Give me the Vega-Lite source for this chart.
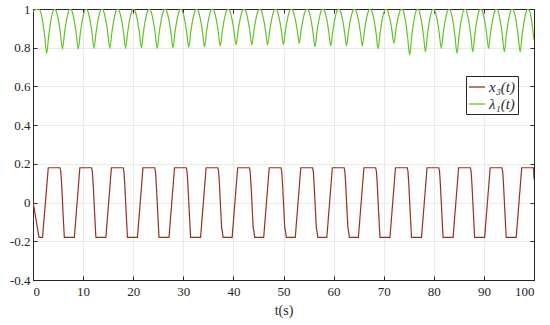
{
  "$schema": "https://vega.github.io/schema/vega-lite/v6.json",
  "width": 501,
  "height": 271,
  "autosize": {"type": "none"},
  "padding": {"left": 33, "top": 9, "right": 16, "bottom": 45},
  "background": "white",
  "config": {
    "view": {"stroke": "#262626", "strokeWidth": 1},
    "font": "Liberation Serif",
    "axis": {
      "labelFont": "Liberation Serif",
      "labelFontSize": 13,
      "labelColor": "#262626",
      "domainColor": "#262626",
      "tickColor": "#262626",
      "titleFont": "Liberation Serif",
      "titleFontWeight": "normal",
      "titleFontSize": 14,
      "titleColor": "#262626",
      "gridColor": "#e3e3e3",
      "gridWidth": 0.8
    },
    "legend": {
      "labelFont": "Liberation Serif",
      "labelFontSize": 15,
      "labelFontStyle": "italic",
      "labelColor": "#262626",
      "strokeColor": "#262626",
      "fillColor": "white",
      "padding": 2,
      "symbolType": "stroke",
      "symbolSize": 260,
      "symbolStrokeWidth": 1.3,
      "rowPadding": 0,
      "labelOffset": 3
    }
  },
  "datasets": {
    "x3": [
      {"t": 0, "y": 0}, {"t": 0.3, "y": -0.04}, {"t": 1.2, "y": -0.18}, {"t": 1.9, "y": -0.18},
      {"t": 3.05, "y": 0.18}, {"t": 5.4, "y": 0.18}, {"t": 5.55, "y": 0.16}, {"t": 5.7, "y": 0.1}, {"t": 6.25, "y": -0.18}, {"t": 8.25, "y": -0.18},
      {"t": 9.35, "y": 0.18}, {"t": 11.7, "y": 0.18}, {"t": 11.85, "y": 0.16}, {"t": 12.0, "y": 0.1}, {"t": 12.55, "y": -0.18}, {"t": 14.55, "y": -0.18},
      {"t": 15.65, "y": 0.18}, {"t": 18.0, "y": 0.18}, {"t": 18.15, "y": 0.16}, {"t": 18.3, "y": 0.1}, {"t": 18.85, "y": -0.18}, {"t": 20.85, "y": -0.18},
      {"t": 21.95, "y": 0.18}, {"t": 24.3, "y": 0.18}, {"t": 24.45, "y": 0.16}, {"t": 24.6, "y": 0.1}, {"t": 25.15, "y": -0.18}, {"t": 27.15, "y": -0.18},
      {"t": 28.25, "y": 0.18}, {"t": 30.6, "y": 0.18}, {"t": 30.75, "y": 0.16}, {"t": 30.9, "y": 0.1}, {"t": 31.45, "y": -0.18}, {"t": 33.45, "y": -0.18},
      {"t": 34.55, "y": 0.18}, {"t": 36.9, "y": 0.18}, {"t": 37.05, "y": 0.16}, {"t": 37.2, "y": 0.1}, {"t": 37.65, "y": -0.13}, {"t": 37.8, "y": -0.15}, {"t": 37.95, "y": -0.18}, {"t": 39.75, "y": -0.18},
      {"t": 40.85, "y": 0.18}, {"t": 43.2, "y": 0.18}, {"t": 43.35, "y": 0.16}, {"t": 43.5, "y": 0.1}, {"t": 43.95, "y": -0.13}, {"t": 44.1, "y": -0.15}, {"t": 44.25, "y": -0.18}, {"t": 46.05, "y": -0.18},
      {"t": 47.15, "y": 0.18}, {"t": 49.5, "y": 0.18}, {"t": 49.65, "y": 0.16}, {"t": 49.8, "y": 0.1}, {"t": 50.25, "y": -0.13}, {"t": 50.4, "y": -0.15}, {"t": 50.55, "y": -0.18}, {"t": 52.35, "y": -0.18},
      {"t": 53.45, "y": 0.18}, {"t": 55.8, "y": 0.18}, {"t": 55.95, "y": 0.16}, {"t": 56.1, "y": 0.1}, {"t": 56.55, "y": -0.13}, {"t": 56.7, "y": -0.15}, {"t": 56.85, "y": -0.18}, {"t": 58.65, "y": -0.18},
      {"t": 59.75, "y": 0.18}, {"t": 62.1, "y": 0.18}, {"t": 62.25, "y": 0.16}, {"t": 62.4, "y": 0.1}, {"t": 62.85, "y": -0.13}, {"t": 63.0, "y": -0.15}, {"t": 63.15, "y": -0.18}, {"t": 64.95, "y": -0.18},
      {"t": 66.05, "y": 0.18}, {"t": 68.4, "y": 0.18}, {"t": 68.55, "y": 0.16}, {"t": 68.7, "y": 0.1}, {"t": 69.25, "y": -0.18}, {"t": 71.25, "y": -0.18},
      {"t": 72.35, "y": 0.18}, {"t": 74.7, "y": 0.18}, {"t": 74.85, "y": 0.16}, {"t": 75.0, "y": 0.1}, {"t": 75.55, "y": -0.18}, {"t": 77.55, "y": -0.18},
      {"t": 78.65, "y": 0.18}, {"t": 81.0, "y": 0.18}, {"t": 81.15, "y": 0.16}, {"t": 81.3, "y": 0.1}, {"t": 81.85, "y": -0.18}, {"t": 83.85, "y": -0.18},
      {"t": 84.95, "y": 0.18}, {"t": 87.3, "y": 0.18}, {"t": 87.45, "y": 0.16}, {"t": 87.6, "y": 0.1}, {"t": 88.15, "y": -0.18}, {"t": 90.15, "y": -0.18},
      {"t": 91.25, "y": 0.18}, {"t": 93.6, "y": 0.18}, {"t": 93.75, "y": 0.16}, {"t": 93.9, "y": 0.1}, {"t": 94.45, "y": -0.18}, {"t": 96.45, "y": -0.18},
      {"t": 97.55, "y": 0.18}, {"t": 99.9, "y": 0.18}, {"t": 100, "y": 0.12}
    ],
    "lam": [
      {"t": 0, "y": 0.985}, {"t": 0.5, "y": 0.998}, {"t": 1.15, "y": 1},
      {"t": 1.53, "y": 0.984}, {"t": 1.93, "y": 0.935}, {"t": 2.33, "y": 0.86}, {"t": 2.73, "y": 0.771}, {"t": 3.13, "y": 0.86}, {"t": 3.53, "y": 0.935}, {"t": 3.93, "y": 0.984}, {"t": 4.31, "y": 1},
      {"t": 4.68, "y": 0.986}, {"t": 5.08, "y": 0.941}, {"t": 5.48, "y": 0.873}, {"t": 5.88, "y": 0.793}, {"t": 6.28, "y": 0.873}, {"t": 6.68, "y": 0.941}, {"t": 7.08, "y": 0.986}, {"t": 7.46, "y": 1},
      {"t": 7.83, "y": 0.986}, {"t": 8.23, "y": 0.941}, {"t": 8.63, "y": 0.873}, {"t": 9.03, "y": 0.793}, {"t": 9.43, "y": 0.873}, {"t": 9.83, "y": 0.941}, {"t": 10.23, "y": 0.986}, {"t": 10.61, "y": 1},
      {"t": 10.98, "y": 0.986}, {"t": 11.38, "y": 0.942}, {"t": 11.78, "y": 0.876}, {"t": 12.18, "y": 0.797}, {"t": 12.58, "y": 0.876}, {"t": 12.98, "y": 0.942}, {"t": 13.38, "y": 0.986}, {"t": 13.76, "y": 1},
      {"t": 14.13, "y": 0.986}, {"t": 14.53, "y": 0.942}, {"t": 14.93, "y": 0.876}, {"t": 15.33, "y": 0.797}, {"t": 15.73, "y": 0.876}, {"t": 16.13, "y": 0.942}, {"t": 16.53, "y": 0.986}, {"t": 16.91, "y": 1},
      {"t": 17.28, "y": 0.986}, {"t": 17.68, "y": 0.942}, {"t": 18.08, "y": 0.876}, {"t": 18.48, "y": 0.797}, {"t": 18.88, "y": 0.876}, {"t": 19.28, "y": 0.942}, {"t": 19.68, "y": 0.986}, {"t": 20.06, "y": 1},
      {"t": 20.43, "y": 0.986}, {"t": 20.83, "y": 0.943}, {"t": 21.23, "y": 0.878}, {"t": 21.63, "y": 0.8}, {"t": 22.03, "y": 0.878}, {"t": 22.43, "y": 0.943}, {"t": 22.83, "y": 0.986}, {"t": 23.21, "y": 1},
      {"t": 23.58, "y": 0.986}, {"t": 23.98, "y": 0.942}, {"t": 24.38, "y": 0.876}, {"t": 24.78, "y": 0.797}, {"t": 25.18, "y": 0.876}, {"t": 25.58, "y": 0.942}, {"t": 25.98, "y": 0.986}, {"t": 26.36, "y": 1},
      {"t": 26.73, "y": 0.986}, {"t": 27.13, "y": 0.943}, {"t": 27.53, "y": 0.878}, {"t": 27.93, "y": 0.8}, {"t": 28.33, "y": 0.878}, {"t": 28.73, "y": 0.943}, {"t": 29.13, "y": 0.986}, {"t": 29.51, "y": 1},
      {"t": 29.88, "y": 0.986}, {"t": 30.28, "y": 0.944}, {"t": 30.68, "y": 0.879}, {"t": 31.08, "y": 0.803}, {"t": 31.48, "y": 0.879}, {"t": 31.88, "y": 0.944}, {"t": 32.28, "y": 0.986}, {"t": 32.66, "y": 1},
      {"t": 33.03, "y": 0.987}, {"t": 33.43, "y": 0.945}, {"t": 33.83, "y": 0.881}, {"t": 34.23, "y": 0.805}, {"t": 34.63, "y": 0.881}, {"t": 35.03, "y": 0.945}, {"t": 35.43, "y": 0.987}, {"t": 35.81, "y": 1},
      {"t": 36.18, "y": 0.987}, {"t": 36.58, "y": 0.946}, {"t": 36.98, "y": 0.883}, {"t": 37.38, "y": 0.809}, {"t": 37.78, "y": 0.883}, {"t": 38.18, "y": 0.946}, {"t": 38.58, "y": 0.987}, {"t": 38.96, "y": 1},
      {"t": 39.33, "y": 0.987}, {"t": 39.73, "y": 0.947}, {"t": 40.13, "y": 0.886}, {"t": 40.53, "y": 0.814}, {"t": 40.93, "y": 0.886}, {"t": 41.33, "y": 0.947}, {"t": 41.73, "y": 0.987}, {"t": 42.11, "y": 1},
      {"t": 42.48, "y": 0.987}, {"t": 42.88, "y": 0.947}, {"t": 43.28, "y": 0.886}, {"t": 43.68, "y": 0.814}, {"t": 44.08, "y": 0.886}, {"t": 44.48, "y": 0.947}, {"t": 44.88, "y": 0.987}, {"t": 45.26, "y": 1},
      {"t": 45.63, "y": 0.987}, {"t": 46.03, "y": 0.947}, {"t": 46.43, "y": 0.886}, {"t": 46.83, "y": 0.814}, {"t": 47.23, "y": 0.886}, {"t": 47.63, "y": 0.947}, {"t": 48.03, "y": 0.987}, {"t": 48.41, "y": 1},
      {"t": 48.78, "y": 0.987}, {"t": 49.18, "y": 0.948}, {"t": 49.58, "y": 0.888}, {"t": 49.98, "y": 0.817}, {"t": 50.38, "y": 0.888}, {"t": 50.78, "y": 0.948}, {"t": 51.18, "y": 0.987}, {"t": 51.56, "y": 1},
      {"t": 51.93, "y": 0.988}, {"t": 52.33, "y": 0.95}, {"t": 52.73, "y": 0.892}, {"t": 53.13, "y": 0.823}, {"t": 53.53, "y": 0.892}, {"t": 53.93, "y": 0.95}, {"t": 54.33, "y": 0.988}, {"t": 54.71, "y": 1},
      {"t": 55.08, "y": 0.987}, {"t": 55.48, "y": 0.945}, {"t": 55.88, "y": 0.881}, {"t": 56.28, "y": 0.805}, {"t": 56.68, "y": 0.881}, {"t": 57.08, "y": 0.945}, {"t": 57.48, "y": 0.987}, {"t": 57.86, "y": 1},
      {"t": 58.23, "y": 0.987}, {"t": 58.63, "y": 0.946}, {"t": 59.03, "y": 0.883}, {"t": 59.43, "y": 0.809}, {"t": 59.83, "y": 0.883}, {"t": 60.23, "y": 0.946}, {"t": 60.63, "y": 0.987}, {"t": 61.01, "y": 1},
      {"t": 61.38, "y": 0.987}, {"t": 61.78, "y": 0.946}, {"t": 62.18, "y": 0.883}, {"t": 62.58, "y": 0.809}, {"t": 62.98, "y": 0.883}, {"t": 63.38, "y": 0.946}, {"t": 63.78, "y": 0.987}, {"t": 64.16, "y": 1},
      {"t": 64.53, "y": 0.987}, {"t": 64.93, "y": 0.946}, {"t": 65.33, "y": 0.883}, {"t": 65.73, "y": 0.809}, {"t": 66.13, "y": 0.883}, {"t": 66.53, "y": 0.946}, {"t": 66.93, "y": 0.987}, {"t": 67.31, "y": 1},
      {"t": 67.68, "y": 0.986}, {"t": 68.08, "y": 0.942}, {"t": 68.48, "y": 0.875}, {"t": 68.88, "y": 0.795}, {"t": 69.28, "y": 0.875}, {"t": 69.68, "y": 0.942}, {"t": 70.08, "y": 0.986}, {"t": 70.46, "y": 1},
      {"t": 70.83, "y": 0.988}, {"t": 71.23, "y": 0.95}, {"t": 71.63, "y": 0.892}, {"t": 72.03, "y": 0.823}, {"t": 72.43, "y": 0.892}, {"t": 72.83, "y": 0.95}, {"t": 73.23, "y": 0.988}, {"t": 73.61, "y": 1},
      {"t": 73.98, "y": 0.984}, {"t": 74.38, "y": 0.932}, {"t": 74.78, "y": 0.854}, {"t": 75.18, "y": 0.762}, {"t": 75.58, "y": 0.854}, {"t": 75.98, "y": 0.932}, {"t": 76.38, "y": 0.984}, {"t": 76.76, "y": 1},
      {"t": 77.13, "y": 0.985}, {"t": 77.53, "y": 0.937}, {"t": 77.93, "y": 0.865}, {"t": 78.33, "y": 0.779}, {"t": 78.73, "y": 0.865}, {"t": 79.13, "y": 0.937}, {"t": 79.53, "y": 0.985}, {"t": 79.91, "y": 1},
      {"t": 80.28, "y": 0.986}, {"t": 80.68, "y": 0.942}, {"t": 81.08, "y": 0.876}, {"t": 81.48, "y": 0.797}, {"t": 81.88, "y": 0.876}, {"t": 82.28, "y": 0.942}, {"t": 82.68, "y": 0.986}, {"t": 83.06, "y": 1},
      {"t": 83.43, "y": 0.984}, {"t": 83.83, "y": 0.935}, {"t": 84.23, "y": 0.86}, {"t": 84.63, "y": 0.771}, {"t": 85.03, "y": 0.86}, {"t": 85.43, "y": 0.935}, {"t": 85.83, "y": 0.984}, {"t": 86.21, "y": 1},
      {"t": 86.58, "y": 0.985}, {"t": 86.98, "y": 0.937}, {"t": 87.38, "y": 0.865}, {"t": 87.78, "y": 0.779}, {"t": 88.18, "y": 0.865}, {"t": 88.58, "y": 0.937}, {"t": 88.98, "y": 0.985}, {"t": 89.36, "y": 1},
      {"t": 89.73, "y": 0.986}, {"t": 90.13, "y": 0.942}, {"t": 90.53, "y": 0.876}, {"t": 90.93, "y": 0.797}, {"t": 91.33, "y": 0.876}, {"t": 91.73, "y": 0.942}, {"t": 92.13, "y": 0.986}, {"t": 92.51, "y": 1},
      {"t": 92.88, "y": 0.985}, {"t": 93.28, "y": 0.937}, {"t": 93.68, "y": 0.865}, {"t": 94.08, "y": 0.779}, {"t": 94.48, "y": 0.865}, {"t": 94.88, "y": 0.937}, {"t": 95.28, "y": 0.985}, {"t": 95.66, "y": 1},
      {"t": 96.03, "y": 0.985}, {"t": 96.43, "y": 0.937}, {"t": 96.83, "y": 0.865}, {"t": 97.23, "y": 0.779}, {"t": 97.63, "y": 0.865}, {"t": 98.03, "y": 0.937}, {"t": 98.43, "y": 0.985}, {"t": 98.81, "y": 1},
      {"t": 99.18, "y": 0.985}, {"t": 99.58, "y": 0.93}, {"t": 100, "y": 0.84}
    ]
  },
  "layer": [
    {
      "data": {"name": "x3"},
      "mark": {"type": "line", "strokeWidth": 1.2, "clip": true},
      "encoding": {
        "x": {
          "field": "t", "type": "quantitative",
          "scale": {"domain": [0, 100], "nice": false},
          "axis": {
            "orient": "bottom",
            "values": [0, 10, 20, 30, 40, 50, 60, 70, 80, 90, 100],
            "labelExpr": "datum.value + ''",
            "tickSize": -4,
            "labelPadding": 9,
            "title": "t(s)",
            "titlePadding": 5,
            "grid": true
          }
        },
        "y": {
          "field": "y", "type": "quantitative",
          "scale": {"domain": [-0.4, 1], "nice": false, "zero": false},
          "axis": {
            "orient": "left",
            "values": [-0.4, -0.2, 0, 0.2, 0.4, 0.6, 0.8, 1],
            "labelExpr": "datum.value + ''",
            "tickSize": -4,
            "labelPadding": 7,
            "title": null,
            "grid": true
          }
        },
        "color": {
          "datum": "x₃(t)",
          "type": "nominal",
          "scale": {"domain": ["x₃(t)", "λ₁(t)"], "range": ["#96321a", "#62c424"]},
          "legend": {"orient": "none", "legendX": 433, "legendY": 67, "title": null}
        }
      }
    },
    {
      "data": {"name": "lam"},
      "mark": {"type": "line", "strokeWidth": 1.2, "clip": true, "interpolate": "monotone"},
      "encoding": {
        "x": {
          "field": "t", "type": "quantitative",
          "axis": {"orient": "top", "values": [0, 10, 20, 30, 40, 50, 60, 70, 80, 90, 100], "labels": false, "tickSize": -4, "grid": false, "title": null}
        },
        "y": {
          "field": "y", "type": "quantitative",
          "axis": {"orient": "right", "values": [-0.4, -0.2, 0, 0.2, 0.4, 0.6, 0.8, 1], "labels": false, "tickSize": -4, "grid": false, "title": null}
        },
        "color": {"datum": "λ₁(t)", "type": "nominal"}
      }
    }
  ],
  "resolve": {"axis": {"x": "independent", "y": "independent"}}
}
